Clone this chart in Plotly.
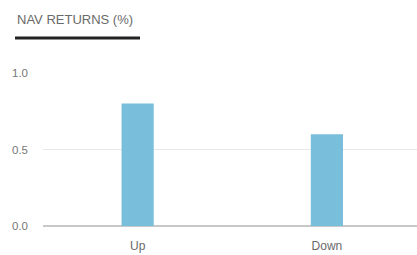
import plotly.graph_objects as go

categories = ["Up", "Down"]
values = [0.80, 0.60]
tick_vals = [0.0, 0.5, 1.0]
tick_text = ["0.0", "0.5", "1.0"]
title_text = "NAV RETURNS (%)"

fig = go.Figure(go.Bar(x=categories, y=values, marker_color="#79bedb", width=0.17))

fig.update_layout(
    template="none",
    width=417, height=255,
    margin=dict(l=43, r=0, t=73, b=29, autoexpand=False),
    paper_bgcolor="white", plot_bgcolor="white",
    font=dict(family="Liberation Sans, Arial, sans-serif", size=12, color="#666"),
    showlegend=False,
    hovermode=False,
    xaxis=dict(range=[-0.5, 1.476], showgrid=False, showline=False, ticks="", zeroline=False,
               automargin=False, ticklabelstandoff=11,
               tickfont=dict(size=12, color="#6a6a6a")),
    yaxis=dict(range=[0, 1.0], tickvals=tick_vals, ticktext=tick_text, showgrid=True,
               gridcolor="#e8e8e8", gridwidth=1.5, zeroline=True, zerolinecolor="#c8c8c8",
               zerolinewidth=2, ticks="", ticklabelstandoff=14, automargin=False,
               showline=False, tickfont=dict(size=11.5, color="#777")),
)
fig.add_annotation(text=title_text, xref="paper", yref="paper", x=0, y=1, xshift=-28, yshift=44,
                   xanchor="left", yanchor="bottom", showarrow=False,
                   font=dict(size=13, color="#6a6a6a"))
fig.add_shape(type="line", xref="paper", yref="paper", xsizemode="pixel", ysizemode="pixel",
              xanchor=0, yanchor=1, x0=-28, x1=97, y0=35, y1=35,
              line=dict(color="#222", width=3))

fig.write_html("out.html",
               config={"displayModeBar": False, "staticPlot": True},
               post_script="document.body.style.margin='0';document.body.style.overflow='hidden';")
